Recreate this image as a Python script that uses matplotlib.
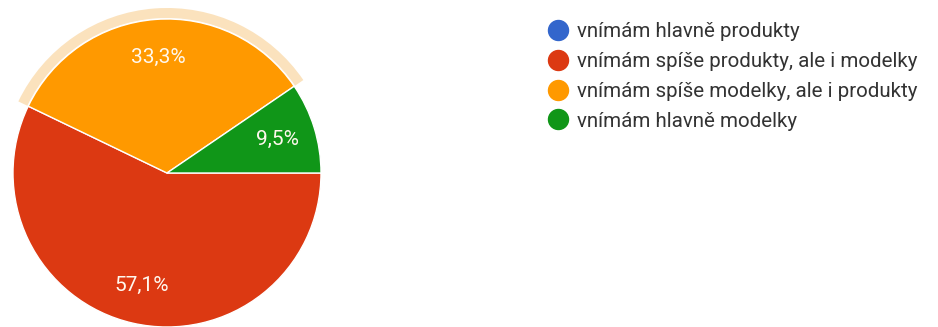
import matplotlib
matplotlib.use("Agg")
import matplotlib.pyplot as plt
from matplotlib.patches import Wedge
from matplotlib.lines import Line2D

# survey answers (21 responses)
labels = ["vnímám hlavně produkty",
          "vnímám spíše produkty, ale i modelky",
          "vnímám spíše modelky, ale i produkty",
          "vnímám hlavně modelky"]
counts = [0, 12, 7, 2]
colors = ["#3366cc", "#dc3912", "#ff9900", "#109618"]

plt.rcParams['font.family'] = ['Roboto', 'DejaVu Sans']

fig = plt.figure(figsize=(9.38, 3.27), dpi=100)
ax = fig.add_axes([0, 0, 1, 1])

cx, cy, R = 167, 154, 154

def pct(p):
    return "" if p < 0.05 else f"{p:.1f}%".replace(".", ",")

wedges, texts, autotexts = ax.pie(
    counts, colors=colors, startangle=0, counterclock=False,
    center=(cx, cy), radius=R, autopct=pct, pctdistance=0.75,
    wedgeprops=dict(edgecolor="white", linewidth=1),
    textprops=dict(color="#fff8ee", fontsize=15))

# hover ring around the highlighted slice
hl = wedges[2]
ax.add_patch(Wedge((cx, cy), R + 11, hl.theta1, hl.theta2, width=10,
                   facecolor="#fbe2bd", edgecolor="none"))

ax.set_xlim(0, 938)
ax.set_ylim(0, 327)
ax.set_aspect("equal")
ax.axis("off")

handles = [Line2D([], [], marker="o", linestyle="none", markersize=14.4,
                  markerfacecolor=c, markeredgecolor=c) for c in colors]
ax.legend(handles, labels, loc="upper left", bbox_to_anchor=(548 / 938, 1 - 22 / 327),
          frameon=False, fontsize=14.8, labelcolor="#333333",
          handletextpad=0.42, labelspacing=0.53, borderaxespad=0, borderpad=0,
          handlelength=1.0)

fig.savefig("out.png", dpi=100, facecolor="white")
